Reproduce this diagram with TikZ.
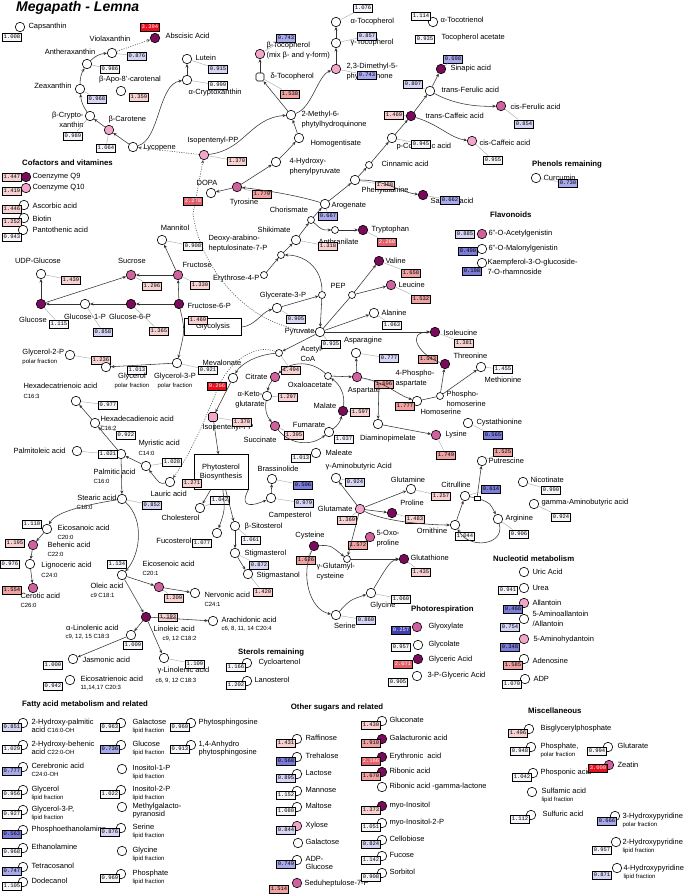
\documentclass[tikz,border=0pt]{standalone}
\usepackage{fontspec}
\setmainfont{Liberation Sans}
\newfontfamily\monof{Liberation Mono}
\usetikzlibrary{arrows.meta}
\definecolor{cpk}{HTML}{F2A6CA}
\definecolor{cmd}{HTML}{D0609E}
\definecolor{cdk}{HTML}{7A0A5C}
\definecolor{bW}{HTML}{F6F6FA}
\definecolor{bLB}{HTML}{D6D6F4}
\definecolor{bB}{HTML}{A8A8EC}
\definecolor{bMB}{HTML}{7C7CDA}
\definecolor{bDB}{HTML}{3E3EAE}
\definecolor{bLP}{HTML}{F8D2D2}
\definecolor{bP}{HTML}{F0A2A2}
\definecolor{bR}{HTML}{E4606A}
\definecolor{bRR}{HTML}{E8101E}
\newcommand\lbf{\fontsize{7.5}{9.6}\selectfont}
\newcommand\sbf{\fontsize{6}{7}\selectfont}
\newcommand\vbf{\monof\fontsize{5.5}{6}\selectfont}
\newcommand\hdf{\bfseries\fontsize{7.8}{9}\selectfont}
\newcommand\mC[4][mcW]{\node[mc,#1] (#2) at (#3,#4) {};}
\newcommand\mV[5][vW]{\node[vb,#1] (#2) at (#3,#4) {#5};}
\newcommand\mL[5][anchor=west]{\node[lb,#1] (#2) at (#3,#4) {#5};}
\newcommand\mS[5][anchor=west]{\node[sb,#1] (#2) at (#3,#4) {#5};}
\newcommand\tE[8][mcW]{\node[mc,#1] (c#2) at ({#3+11},{#5-4}) {};\node[vb,#6] (v#2) at (#3,#5) {#7};\node[lb,anchor=north west] (l#2) at (#4,{#5-8.5}) {#8};}
\newcommand\tC[6][mcW]{\node[mc,#1] (c#2) at (#3,#5) {};\node[lb,anchor=north west] (l#2) at (#4,{#5-4.5}) {#6};}
\begin{document}
\begin{tikzpicture}[x=1pt,y=-1pt,
 mc/.style={circle,draw=black,line width=0.6pt,minimum size=9.5pt,inner sep=0pt},
 mcW/.style={fill=white}, mcL/.style={fill=cpk}, mcM/.style={fill=cmd}, mcD/.style={fill=cdk},
 mcS/.style={fill=white,minimum size=7pt},
 mcQ/.style={fill=cpk,rectangle,rounded corners=1.8pt,minimum size=9pt},
 vb/.style={draw=black,line width=0.5pt,font=\vbf,inner xsep=1.3pt,inner ysep=0pt,minimum height=8.5pt},
 vW/.style={fill=bW}, vLB/.style={fill=bLB}, vB/.style={fill=bB}, vMB/.style={fill=bMB},
 vDB/.style={fill=bDB,text=white}, vLP/.style={fill=bLP}, vP/.style={fill=bP},
 vR/.style={fill=bR,text=white}, vRR/.style={fill=bRR,text=white},
 lb/.style={font=\lbf,inner sep=0.3pt,align=left},
 sb/.style={font=\sbf,inner sep=0.3pt},
 hd/.style={font=\hdf,inner sep=0pt,anchor=west},
 ar/.style={-{Stealth[length=3.4pt,width=3pt]},line width=0.55pt,draw=black!80},
 ln/.style={line width=0.55pt,draw=black!80},
 ldr/.style={draw=black!35,line width=0.4pt},
 dt/.style={line width=0.6pt,draw=black!70,dash pattern=on 1pt off 1.4pt}]
\fill[white] (0,0) rectangle (685,895);
\useasboundingbox (0,0) rectangle (685,895);
\node[font=\bfseries\itshape\fontsize{14}{14}\selectfont,anchor=west,inner sep=0] (title) at (16,8) {Megapath - Lemna};
% ---------- carotenoids
\mC{caps}{20}{27}\mL{lcaps}{28}{27}{Capsanthin}\mV{vcaps}{12}{37}{1.008}
\mC[mcD]{absc}{155}{38}\mV[vRR]{vabsc}{150}{27}{3.394}\mL{labsc}{165}{36}{Abscisic Acid}
\mC{viola}{112}{53}\mL[anchor=center]{lviola}{110}{39}{Violaxanthin}\mV[vLB]{vviola}{137}{56}{0.876}
\mC{anth}{87}{64}\mL[anchor=center]{lanth}{70}{52}{Antheraxanthin}\mV{vanth}{110}{69}{0.986}
\mC{zeax}{80}{89}\mL[anchor=east]{lzeax}{72}{86}{Zeaxanthin}\mV[vLB]{vzeax}{97}{99}{0.968}
\mC{apo}{121}{91}\mL[anchor=center]{lapo}{130}{80}{β-Apo-8'-carotenal}\mV[vLP]{vapo}{139}{97}{1.359}
\mC{bcry}{90}{116}\mL[anchor=east,align=right]{lbcry}{84}{120}{β-Crypto-\\xanthin}\mV{vbcry}{73}{136}{0.989}
\mC[mcL]{bcar}{109}{130}\mL{lbcar}{108}{120}{β-Carotene}\mV{vbcar}{106}{148}{1.064}
\mC{lyco}{133}{147}\mL{llyco}{143}{148}{Lycopene}
\mC{lut}{187}{59}\mL{llut}{195}{58}{Lutein}\mV[vLB]{vlut}{218}{69}{0.915}
\mC{acry}{187}{80}\mV{vacry}{218}{85}{0.999}\mL{lacry}{188}{93}{α-Cryptoxanthin}
\mC[mcL]{ipp1}{204}{155}\mL{lipp1}{187}{141}{Isopentenyl-PP}\mV[vLP]{vipp1}{237}{161}{1.370}
\mC{dopa}{211}{193}\mL[anchor=center]{ldopa}{207}{183}{DOPA}\mV[vR]{vdopa}{193}{201}{2.278}
% ---------- tocopherols
\mC{atoc}{336}{22}\mL{latoc}{350}{22}{α-Tocopherol}\mV{vatoc}{363}{8}{1.076}
\mC{gtoc}{336}{43}\mL{lgtoc}{350}{43}{γ-Tocopherol}\mV[vLB]{vgtoc}{367}{36}{0.857}
\mC[mcL]{dmpq}{336}{69}\mL[anchor=north west]{ldmpq}{346}{63}{2,3-Dimethyl-5-\\phytylquinone}\mV[vB]{vdmpq}{367}{75}{0.743}
\mC[mcL]{btoc}{260}{54}\mL[anchor=north west]{lbtoc}{266}{42}{β-Tocopherol\\(mix β- and γ-form)}\mV[vB]{vbtoc}{286}{38}{0.743}
\node[mc,mcW,rectangle,rounded corners=1.5pt,minimum size=8pt] (dtoc) at (260,77) {};
\mL{ldtoc}{270}{77}{δ-Tocopherol}\mV[vP]{vdtoc}{290}{94}{1.538}
\mC{mphq}{291}{115}\mL[anchor=north west]{lmphq}{301}{111}{2-Methyl-6-\\phytylhydroquinone}
\mC{homog}{299}{138}\mL{lhomog}{310}{144}{Homogentisate}
\mC{hpp}{276}{162}\mL[anchor=north west]{lhpp}{289}{158}{4-Hydroxy-\\phenylpyruvate}
\mC[mcM]{tyr}{237}{187}\mL[anchor=center]{ltyr}{244}{203}{Tyrosine}\mV[vP]{vtyr}{262}{194}{1.779}
\mL[anchor=center]{lchor}{289}{210}{Chorismate}
\mC[mcS]{chor}{311}{220}
\mC{aro}{325}{204}\mL{laro}{331}{206}{Arogenate}\mV[vB]{varo}{328}{216}{0.667}
\mC{phe}{355}{180}\mL{lphe}{361}{191}{Phenylalanine}\mV[vLP]{vphe}{385}{185}{1.388}
\mC[mcS]{cinn}{369}{165}\mL{lcinn}{381}{164}{Cinnamic acid}
\mC{pcou}{392}{138}\mL{lpcou}{396}{147}{p-Coumaric acid}\mV{vpcou}{421}{144}{0.945}
\mC[mcD]{tcaf}{411}{116}\mL{ltcaf}{425}{116}{trans-Caffeic acid}\mV[vLP]{vtcaf}{394}{115}{1.469}
\mC{tfer}{430}{91}\mL{ltfer}{441}{90}{trans-Ferulic acid}\mV[vLB]{vtfer}{413}{84}{0.807}
\mC[mcD]{sin}{441}{69}\mL{lsin}{450}{69}{Sinapic acid}\mV[vB]{vsin}{453}{59}{0.698}
\mC[mcM]{cfer}{501}{106}\mL{lcfer}{510}{107}{cis-Ferulic acid}\mV[vLB]{vcfer}{524}{124}{0.854}
\mC[mcL]{ccaf}{472}{141}\mL{lccaf}{479}{143}{cis-Caffeic acid}\mV{vccaf}{493}{160}{0.955}
\mC[mcD]{sal}{423}{195}\mL{lsal}{430}{202}{Salicylic acid}\mV[vB]{vsal}{450}{200}{0.662}
\mC{att}{433}{22}\mV{vatt}{421}{16}{1.114}\mL{latt}{440}{20}{α-Tocotrienol}
\mV{vtac}{425}{39}{0.935}\mL{ltac}{441}{38}{Tocopherol acetate}
\node[hd] (hphen) at (532,164) {Phenols remaining};
\mC{curc}{536}{178}\mL{lcurc}{543}{178}{Curcumin}\mV[vB]{vcurc}{568}{183}{0.730}
\node[hd] (hflav) at (490,215) {Flavonoids};
\mC[mcM]{fl1}{482}{234}\mV[vLB]{vfl1}{465}{234}{0.885}\mL{lfl1}{488}{234}{6"-O-Acetylgenistin}
\mC{fl2}{482}{249}\mV[vMB]{vfl2}{468}{251}{0.490}\mL{lfl2}{488}{249}{6"-O-Malonylgenistin}
\mC{fl3}{482}{263}\mV[vMB]{vfl3}{472}{271}{0.198}\mL[anchor=north west]{lfl3}{487}{259}{Kaempferol-3-O-glucoside-\\7-O-rhamnoside}
% ---------- cofactors
\node[hd] (hcof) at (22,163) {Cofactors and vitamines};
\mC[mcD]{q9}{26}{177}\mV[vLP]{vq9}{12}{177}{1.447}\mL{lq9}{32}{177}{Coenzyme Q9}
\mC[mcL]{q10}{26}{188}\mV[vLP]{vq10}{12}{191}{1.419}\mL{lq10}{32}{188}{Coenzyme Q10}
\mC{asc}{24}{205}\mV[vLP]{vasc}{12}{209}{1.446}\mL{lasc}{32}{206}{Ascorbic acid}
\mC{bio}{24}{218}\mV[vLP]{vbio}{12}{222}{1.252}\mL{lbio}{32}{219}{Biotin}
\mC{pan}{23}{230}\mV{vpan}{12}{237}{0.943}\mL{lpan}{32}{230}{Pantothenic acid}
% ---------- shikimate / glycolysis
\mC{shik}{296}{240}\mL[anchor=east]{lshik}{291}{230}{Shikimate}
\mC[mcS]{anthr}{335}{230}\mL{lanthr}{318}{242}{Anthranilate}\mV[vLP]{vshik}{328}{246}{1.318}
\mC[mcD]{trp}{363}{230}\mL{ltrp}{371}{230}{Tryptophan}\mV[vR]{vtrp}{387}{242}{2.260}
\mC[mcS]{dahp}{281}{255}\mL[anchor=north west]{ldahp}{208}{235}{Deoxy-arabino-\\heptulosinate-7-P}
\mC[mcS]{e4p}{264}{275}\mL[anchor=east]{le4p}{260}{279}{Erythrose-4-P}
\mC[mcS]{pep}{322}{295}\mL{lpep}{330}{286}{PEP}
\mC{g3p}{277}{308}\mL[anchor=center]{lg3p}{283}{296}{Glycerate-3-P}\mV[vLB]{vg3p}{296}{319}{0.905}
\mC{pyr}{320}{332}\mL[anchor=east]{lpyr}{315}{332}{Pyruvate}\mV{vpyr}{331}{344}{0.935}
\mC[mcS]{brc}{352}{295}
\mC[mcD]{val}{379}{261}\mL{lval}{385}{261}{Valine}\mV[vP]{vval}{411}{273}{1.658}
\mC[mcM]{leu}{391}{285}\mL{lleu}{398}{285}{Leucine}\mV[vP]{vleu}{421}{299}{1.532}
\mC{ala}{374}{313}\mL{lala}{381}{313}{Alanine}\mV{vala}{392}{325}{1.063}
\mC[mcD]{ile}{435}{332}\mL{lile}{443}{333}{Isoleucine}\mV[vLP]{vile}{464}{343}{1.381}
\mC[mcD]{thr}{445}{364}\mL{lthr}{453}{356}{Threonine}\mV[vP]{vthr}{428}{359}{1.543}
\mC{met}{481}{367}\mV{vmet}{503}{369}{1.455}\mL[anchor=center]{lmet}{503}{380}{Methionine}
\mC[mcS]{phser}{440}{396}\mL[anchor=north west]{lphser}{446}{391}{Phospho-\\homoserine}
\mC{hser}{417}{401}\mL{lhser}{420}{412}{Homoserine}\mV[vP]{vhser}{405}{406}{1.777}
\mL[anchor=center]{lasn}{363}{341}{Asparagine}\mC{asn}{356}{353}\mV[vLB]{vasn}{389}{358}{0.777}
\mC[mcM]{asp}{357}{377}\mL[anchor=center]{lasp}{364}{391}{Aspartate}\mL[anchor=north west]{lp4a}{395}{370}{4-Phospho-\\aspartate}\mV[vP]{vasp}{384}{384}{1.696}
\mC[mcS]{oaa}{328}{376}\mL[anchor=center]{loaa}{310}{385}{Oxaloacetate}
\mC[mcS]{accoa}{279}{353}\mL[anchor=north west]{laccoa}{300}{346}{Acetyl-\\CoA}\mV[vLP]{vaccoa}{291}{370}{1.494}
\mC[mcM]{cit}{275}{377}\mL[anchor=east]{lcit}{268}{377}{Citrate}
\mC{akg}{267}{396}\mL[anchor=north,align=center]{lakg}{250}{391}{α-Keto-\\glutarate}\mV[vLP]{vakg}{288}{397}{1.297}
\mC[mcD]{mal}{343}{411}\mL[anchor=center]{lmal}{325}{406}{Malate}\mV[vLP]{vmal}{360}{412}{1.597}
\mC{fum}{329}{432}\mL[anchor=center]{lfum}{309}{425}{Fumarate}\mV{vfum}{344}{439}{1.037}
\mC[mcM]{suc}{275}{426}\mL[anchor=center]{lsuc}{260}{440}{Succinate}\mV[vLP]{vsuc}{294}{435}{1.395}
\mC{dap}{378}{424}\mL[anchor=center]{ldap}{388}{439}{Diaminopimelate}
\mC[mcM]{lys}{436}{435}\mL{llys}{445}{435}{Lysine}\mV[vP]{vlys}{446}{455}{1.749}
\mC{cysta}{468}{423}\mL{lcysta}{476}{423}{Cystathionine}\mV[vMB]{vcysta}{493}{435}{0.565}
% ---------- sugars
\mL[anchor=center]{lmant}{175}{228}{Mannitol}\mC{mant}{162}{240}\mV{vmant}{193}{246}{0.908}
\mL[anchor=center]{ludpg}{38}{261}{UDP-Glucose}\mC{udpg}{41}{274}\mV[vLP]{vudpg}{71}{280}{1.439}
\mL[anchor=center]{lsucr}{132}{261}{Sucrose}\mC[mcM]{sucr}{131}{275}\mV[vLP]{vsucr}{152}{286}{1.296}
\mC[mcM]{fru}{178}{275}\mL{lfru}{182}{265}{Fructose}\mV[vLP]{vfru}{200}{285}{1.330}
\mC[mcD]{glc}{41}{304}\mL[anchor=center]{lglc}{33}{320}{Glucose}\mV{vglc}{59}{324}{1.115}
\mC{g1p}{85}{304}\mL[anchor=center]{lg1p}{85}{317}{Glucose-1-P}\mV[vLB]{vg1p}{103}{332}{0.858}
\mC[mcD]{g6p}{131}{304}\mL[anchor=center]{lg6p}{130}{317}{Glucose-6-P}\mV[vLP]{vg6p}{159}{331}{1.365}
\node[draw=black,line width=0.5pt,minimum width=57pt,minimum height=17pt,font=\lbf] (glyc) at (213,327) {Glycolysis};
\mC[mcD]{f6p}{179}{304}\mL{lf6p}{187}{306}{Fructose-6-P}\mV[vLP]{vf6p}{198}{320}{1.469}
\mL{lgly2p}{22}{353}{Glycerol-2-P}\mS{sgly2p}{22}{362}{polar fraction}\mC{gly2p}{70}{355}\mV[vLP]{vgly2p}{101}{360}{1.236}
\mC{glyl}{106}{367}\mV{vglyl}{137}{370}{1.013}\mL[anchor=center]{lglyl}{132}{377}{Glycerol}\mS[anchor=center]{sglyl}{132}{386}{polar fraction}
\mC{gly3p}{177}{363}\mV{vgly3p}{208}{370}{0.921}\mL[anchor=center]{lgly3p}{175}{377}{Glycerol-3-P}\mS[anchor=center]{sgly3p}{175}{386}{polar fraction}
% ---------- mevalonate / sterols
\mL[anchor=center]{lmev}{222}{363}{Mevalonate}\mC{mev}{233}{378}\mV[vRR]{vmev}{217}{386}{9.266}
\mC[mcQ]{ipp2}{213}{417}\mL{lipp2}{202}{428}{Isopentenyl-PP}\mV[vLP]{vipp2}{242}{422}{1.370}
\node[draw=black,line width=0.5pt,minimum width=54pt,minimum height=35pt,font=\lbf,align=center] (phyto) at (221,472) {Phytosterol\\Biosynthesis};
\mC{chol}{200}{508}\mL[anchor=east]{lchol}{200}{518}{Cholesterol}\mV{vchol}{220}{500}{1.042}
\mC{fuco}{217}{533}\mL[anchor=east]{lfuco}{192}{541}{Fucosterol}\mV{vfuco}{202}{543}{1.077}
\mL[anchor=center]{lbrass}{278}{469}{Brassinolide}\mC{brass}{272}{479}\mV[vMB]{vbrass}{303}{485}{0.506}
\mC{camp}{271}{498}\mV[vLB]{vcamp}{304}{503}{0.979}\mL[anchor=center]{lcamp}{290}{516}{Campesterol}
\mC{bsit}{235}{526}\mL{lbsit}{244}{527}{β-Sitosterol}\mV{vbsit}{251}{540}{1.061}
\mC{stigm}{235}{553}\mL{lstigm}{244}{554}{Stigmasterol}\mV[vLB]{vstigm}{259}{565}{0.872}
\mC{stign}{248}{574}\mL{lstign}{256}{576}{Stigmastanol}\mV[vLP]{vstign}{263}{592}{1.420}
\node[hd] (hster) at (238,652) {Sterols remaining};
\tE{cyc}{236}{258}{667}{vW}{1.166}{Cycloartenol}
\tE{lan}{236}{254}{685}{vW}{1.202}{Lanosterol}
% ---------- fatty acids
\mL{lhextri}{23}{386}{Hexadecatrienoic acid}\mS{shextri}{23}{396}{C16:3}\mC{hextri}{76}{401}\mV{vhextri}{108}{405}{0.977}
\mC{hexdi}{95}{423}\mL{lhexdi}{100}{419}{Hexadecadienoic acid}\mS{shexdi}{100}{428}{C16:2}\mV{vhexdi}{126}{435}{0.922}
\mL{lmyr}{138}{444}{Myristic acid}\mS{smyr}{138}{453}{C14:0}\mC{myr}{146}{466}\mV{vmyr}{172}{462}{1.028}
\mL{lpalo}{13}{451}{Palmitoleic acid}\mC{palo}{77}{451}
\mC{pal}{121}{454}\mV{vpal}{108}{454}{1.021}\mL{lpal}{93}{472}{Palmitic acid}\mS{spal}{93}{481}{C16:0}
\mC{lau}{170}{482}\mL{llau}{150}{494}{Lauric acid}\mV[vLP]{vlau}{192}{483}{1.271}
\mC{ste}{122}{499}\mL[anchor=east]{lste}{117}{498}{Stearic acid}\mS{sste}{76}{507}{C18:0}\mV[vLB]{vste}{152}{505}{0.852}
\mC{eico}{47}{529}\mV{veico}{32}{524}{1.110}\mL{leico}{57}{528}{Eicosanoic acid}\mS{seico}{57}{537}{C20:0}
\mC[mcM]{behe}{33}{545}\mV[vLP]{vbehe}{15}{543}{1.195}\mL{lbehe}{47}{545}{Behenic acid}\mS{sbehe}{47}{554}{C22:0}
\mC{lign}{30}{564}\mV{vlign}{10}{564}{0.976}\mL{llign}{41}{566}{Lignoceric acid}\mS{slign}{41}{575}{C24:0}
\mC[mcM]{cero}{33}{588}\mV[vP]{vcero}{12}{590}{1.554}\mL{lcero}{20}{596}{Cerotic acid}\mS{scero}{20}{605}{C26:0}
\mC{ole}{122}{575}\mV{vole}{117}{564}{1.134}\mL{lole}{90}{586}{Oleic acid}\mS{sole}{90}{595}{c9 C18:1}
\mC[mcM]{eicoe}{159}{587}\mL{leicoe}{142}{564}{Eicosenoic acid}\mS{seicoe}{142}{573}{C20:1}\mV[vLP]{veicoe}{174}{598}{1.209}
\mC{nerv}{195}{593}\mL{lnerv}{204}{595}{Nervonic acid}\mS{snerv}{204}{604}{C24:1}
\mC[mcD]{linol}{146}{617}\mV[vLP]{vlinol}{168}{617}{1.193}\mL{llinol}{153}{629}{Linoleic acid}\mS{slinol}{162}{639}{c9, 12 C18:2}
\mC{arach}{213}{621}\mL{larach}{221}{620}{Arachidonic acid}\mS{sarach}{221}{629}{c6, 8, 11, 14 C20:4}
\mC{alin}{131}{635}\mL[anchor=east]{lalin}{119}{628}{α-Linolenic acid}\mS{salin}{65}{637}{c9, 12, 15 C18:3}\mV{valin}{133}{645}{1.009}
\mC{jasm}{73}{659}\mL{ljasm}{82}{660}{Jasmonic acid}\mV{vjasm}{53}{665}{1.000}
\mC{glin}{164}{658}\mV{vglin}{195}{664}{1.109}\mL{lglin}{157}{671}{γ-Linolenic acid}\mS{sglin}{155}{681}{c6, 9, 12 C18:3}
\mC{eicot}{70}{680}\mV{veicot}{53}{686}{0.942}\mL{leicot}{80}{679}{Eicosatrienoic acid}\mS{seicot}{80}{688}{11,14,17 C20:3}
% ---------- amino acids lower
\mC{male}{316}{453}\mV{vmale}{301}{458}{1.013}\mL{lmale}{325}{453}{Maleate}
\mL{lgaba}{325}{467}{γ-Aminobutyric Acid}\mC{gaba}{336}{478}\mV[vLB]{vgaba}{355}{482}{0.924}
\mL[anchor=center]{lgln}{408}{480}{Glutamine}\mC{gln}{411}{489}\mV[vLP]{vgln}{441}{496}{1.257}
\mC[mcL]{glu}{360}{509}\mL[anchor=east]{lglu}{353}{509}{Glutamate}\mV[vLP]{vglu}{347}{520}{1.369}
\mC[mcD]{pro}{392}{513}\mL[anchor=center]{lpro}{412}{503}{Proline}\mV[vLP]{vpro}{415}{519}{1.483}
\mC{orn}{455}{525}\mL[anchor=center]{lorn}{432}{531}{Ornithine}
\mC{citr}{465}{496}\mL[anchor=center]{lcitr}{456}{485}{Citrulline}\mV[vMB]{vcitr}{491}{489}{0.614}
\mV{vorn}{465}{536}{1.044}
\mC{arg}{498}{519}\mL{larg}{505}{519}{Arginine}\mV{varg}{519}{534}{0.906}
\mC{put}{482}{461}\mL{lput}{488}{461}{Putrescine}\mV[vP]{vput}{503}{452}{1.525}
\node[draw=black,fill=white,line width=0.5pt,minimum width=6pt,minimum height=3.5pt,inner sep=0pt] (jn) at (477,498) {};
\mC{nic}{523}{482}\mL{lnic}{530}{480}{Nicotinate}\mV{vnic}{551}{490}{0.990}
\mC{gab2}{534}{504}\mL{lgab2}{541}{503}{gamma-Aminobutyric acid}\mV{vgab2}{561}{517}{0.924}
\mC[mcM]{oxo}{370}{537}\mL[anchor=north west]{loxo}{376}{530}{5-Oxo-\\proline}\mV[vP]{voxo}{358}{545}{1.572}
\mC[mcD]{cys}{314}{546}\mL[anchor=center]{lcys}{310}{536}{Cysteine}\mV[vP]{vcys}{306}{560}{1.626}
\mC[mcS]{ggc}{347}{559}\mL[anchor=north west]{lggc}{316}{563}{γ-Glutamyl-\\cysteine}
\mC[mcD]{gsh}{404}{559}\mL{lgsh}{410}{558}{Glutathione}\mV[vLP]{vgsh}{421}{572}{1.435}
\mC{gly}{371}{593}\mL[anchor=center]{lgly}{383}{606}{Glycine}\mV{vgly}{401}{599}{1.060}
\mC{ser}{336}{615}\mL[anchor=center]{lser}{345}{626}{Serine}\mV[vLB]{vser}{366}{620}{0.860}
% ---------- photorespiration
\node[hd] (hphot) at (411,609) {Photorespiration};
\mC[mcM]{glx}{417}{627}\mV[vDB]{vglx}{401}{630}{0.257}\mL{lglx}{428}{627}{Glyoxylate}
\mC{glyco}{418}{645}\mV{vglyco}{401}{647}{0.957}\mL{lglyco}{428}{645}{Glycolate}
\mC[mcD]{glyce}{418}{659}\mV[vR]{vglyce}{403}{664}{2.071}\mL{lglyce}{428}{660}{Glyceric Acid}
\mC{pga}{417}{676}\mV{vpga}{398}{682}{0.905}\mL{lpga}{427}{676}{3-P-Glyceric Acid}
% ---------- nucleotides
\node[hd] (hnuc) at (493,559) {Nucleotid metabolism};
\mC{uric}{524}{572}\mL{luric}{532}{572}{Uric Acid}
\mC{urea}{524}{588}\mV{vurea}{508}{590}{0.941}\mL{lurea}{532}{588}{Urea}
\mC[mcL]{allt}{524}{603}\mV[vMB]{vallt}{513}{609}{0.466}\mL{lallt}{532}{603}{Allantoin}
\mC{aall}{524}{619}\mV[vLB]{vaall}{510}{627}{0.754}\mL[anchor=north west]{laall}{532}{611}{5-Aminoallantoin\\/Allantoin}
\mC[mcL]{ahyd}{524}{639}\mV[vMB]{vahyd}{510}{647}{0.348}\mL{lahyd}{533}{640}{5-Aminohydantoin}
\mC{ado}{524}{659}\mV[vP]{vado}{513}{665}{1.585}\mL{lado}{532}{661}{Adenosine}
\mC{adp}{525}{679}\mV{vadp}{512}{684}{1.070}\mL{ladp}{533}{679}{ADP}
% ---------- miscellaneous
\node[hd] (hmisc) at (528,711) {Miscellaneous};
\tE{mi1}{518}{540}{733}{vLP}{1.496}{Bisglycerylphosphate}
\tE{mi2}{520}{540}{751}{vW}{0.948}{Phosphate,\\[-2pt]{\sbf polar fraction}}
\tE{mi3}{597}{617}{751}{vW}{0.994}{Glutarate}
\tE{mi4}{522}{540}{777}{vW}{1.042}{Phosponic acid}
\mC[mcM]{zea}{609}{765}\mV[vRR]{vzea}{598}{768}{3.000}\mL{lzea}{617}{765}{Zeatin}
\tC{mi5}{532}{541}{792}{Sulfamic acid\\[-2pt]{\sbf lipid fraction}}
\tE{mi6}{520}{542}{819}{vW}{1.112}{Sulfuric acid}
\mC{hp3}{615}{816}\mV[vB]{vhp3}{607}{821}{0.666}\mL[anchor=north west]{lhp3}{622}{813}{3-Hydroxypyridine\\[-2pt]{\sbf polar fraction}}
\mC{hp2}{616}{842}\mV{vhp2}{602}{850}{0.957}\mL[anchor=north west]{lhp2}{622}{839}{2-Hydroxypyridine\\[-2pt]{\sbf lipid fraction}}
\mC{hp4}{617}{868}\mV[vLB]{vhp4}{602}{875}{0.871}\mL[anchor=north west]{lhp4}{623}{865}{4-Hydroxypyridine\\[-2pt]{\sbf lipid fraction}}
% ---------- fatty acid table
\node[hd] (hfat) at (22,704) {Fatty acid metabolism and related};
\tE{fa1}{12}{31}{727}{vLB}{0.851}{2-Hydroxy-palmitic\\[-2pt]acid {\sbf C16:0-OH}}
\tE{fa2}{12}{31}{749}{vW}{1.029}{2-Hydroxy-behenic\\[-2pt]acid {\sbf C22:0-OH}}
\tE{fa3}{12}{31}{771}{vB}{0.777}{Cerebronic acid\\[-2pt]{\sbf C24:0-OH}}
\tE{fa4}{12}{31}{794}{vW}{0.956}{Glycerol\\[-2pt]{\sbf lipid fraction}}
\tE{fa5}{12}{31}{814}{vW}{0.927}{Glycerol-3-P,\\[-2pt]{\sbf lipid fraction}}
\tE{fa6}{12}{31}{834}{vMB}{0.563}{Phosphoethanolamine}
\tE{fa7}{12}{31}{852}{vW}{0.968}{Ethanolamine}
\tE{fa8}{12}{31}{871}{vB}{0.747}{Tetracosanol}
\tE{fa9}{12}{31}{886}{vW}{1.105}{Dodecanol}
\tE{fb1}{110}{132}{727}{vW}{0.963}{Galactose\\[-2pt]{\sbf lipid fraction}}
\tE{fb2}{110}{132}{749}{vB}{0.736}{Glucose\\[-2pt]{\sbf lipid fraction}}
\tC{fb3}{122}{132}{769}{Inositol-1-P\\[-2pt]{\sbf lipid fraction}}
\tE{fb4}{110}{132}{794}{vW}{1.022}{Inositol-2-P\\[-2pt]{\sbf lipid fraction}}
\tC{fb5}{122}{132}{807}{Methylgalacto-\\[-2pt]pyranosid}
\tE{fb6}{110}{132}{832}{vLB}{0.876}{Serine\\[-2pt]{\sbf lipid fraction}}
\tC{fb7}{122}{132}{851}{Glycine\\[-2pt]{\sbf lipid fraction}}
\tE{fb8}{110}{132}{878}{vW}{0.969}{Phosphate\\[-2pt]{\sbf lipid fraction}}
\tE{fc1}{180}{198}{727}{vW}{0.960}{Phytosphingosine}
\tE{fc2}{180}{198}{749}{vW}{0.913}{1,4-Anhydro\\[-2pt]phytosphingosine}
% ---------- other sugars
\node[hd,anchor=center] (hsug) at (337,707) {Other sugars and related};
\tE{sa1}{286}{305}{743}{vLP}{1.431}{Raffinose}
\tE{sa2}{286}{305}{761}{vMB}{0.568}{Trehalose}
\tE{sa3}{286}{305}{778}{vLB}{0.895}{Lactose}
\tE{sa4}{286}{305}{795}{vW}{1.152}{Mannose}
\tE{sa5}{286}{305}{811}{vW}{1.080}{Maltose}
\tE[mcL]{sa6}{286}{305}{830}{vLB}{0.844}{Xylose}
\tC{sa7}{298}{305}{843}{Galactose}
\tE{sa8}{286}{305}{864}{vB}{0.749}{ADP-\\[-1pt]Glucose}
\mC[mcM]{sa9}{297}{883}\mV[vP]{vsa9}{279}{889}{1.514}\mL{lsa9}{304}{884}{Seduheptulose-7-P}
\tE{sb1}{371}{389}{725}{vLP}{1.430}{Gluconate}
\tE[mcD]{sb2}{371}{389}{743}{vP}{1.910}{Galacturonic acid}
\tE[mcD]{sb3}{371}{389}{761}{vR}{2.166}{Erythronic\ \ acid}
\tE[mcD]{sb4}{371}{389}{776}{vP}{1.670}{Ribonic acid}
\tC{sb5}{382}{389}{787}{Ribonic acid -gamma-lactone}
\tE[mcD]{sb6}{371}{389}{810}{vLP}{1.373}{myo-Inositol}
\tE{sb7}{371}{389}{827}{vW}{1.051}{myo-Inositol-2-P}
\tE{sb8}{371}{389}{844}{vLB}{0.824}{Cellobiose}
\tE{sb9}{371}{389}{860}{vW}{1.142}{Fucose}
\tE{sb10}{371}{389}{877}{vW}{0.908}{Sorbitol}
% ================= connectors
\draw[ar] (lyco) -- (bcar);
\draw[ar] (bcar) -- (bcry);
\draw[ar] (bcry) to[bend left=15] (zeax);
\draw[ar] (zeax) to[bend left=15] (anth);
\draw[ar] (anth) to[bend left=20] (viola);
\draw[ar,dt] (viola) -- (absc);
\draw[ar] (lyco) .. controls (160,140) and (158,84) .. (acry);
\draw[ar] (acry) -- (lut);
\draw[ar,dt] (ipp1) -- (lyco);
\coordinate (mepA) at (193,214);
\draw[ar,dt] (pyr) .. controls (245,328) and (200,265) .. (mepA) -- (ipp1);
\draw[ar] (ipp1) .. controls (245,150) and (250,118) .. (mphq);
\draw[ar] (mphq) -- (dtoc);
\draw[ar] (dtoc) -- (btoc);
\draw[ar] (mphq) .. controls (312,108) and (318,75) .. (dmpq);
\draw[ar] (dmpq) -- (gtoc);
\draw[ar] (gtoc) -- (atoc);
\draw[ar] (homog) -- (mphq);
\draw[ar] (hpp) .. controls (288,150) .. (homog);
\draw[ar] (tyr) -- (hpp);
\draw[ar] (tyr) -- (dopa);
\draw[ar] (aro) .. controls (300,196) and (265,190) .. (tyr);
\draw[ar] (chor) -- (aro);
\draw[ar] (aro) -- (phe);
\draw[ar] (phe) -- (cinn);
\draw[ar] (cinn) -- (pcou);
\draw[ar] (pcou) -- (tcaf);
\draw[ar] (tcaf) -- (tfer);
\draw[ar] (tfer) -- (sin);
\draw[ar] (tfer) .. controls (450,102) and (470,107) .. (cfer);
\draw[ar] (tcaf) .. controls (440,125) and (450,138) .. (ccaf);
\draw[ar] (phe) .. controls (385,180) and (400,192) .. (sal);
\draw[ar] (chor) .. controls (322,230) .. (anthr);
\draw[ar] (anthr) -- (trp);
\draw[ar] (shik) -- (chor);
\draw[ar] (dahp) -- (shik);
\draw[ar] (e4p) -- (dahp);
\draw[ar] (pep) .. controls (322,268) and (305,255) .. (dahp);
\draw[ar] (g3p) -- (pep);
\draw[ar] (glyc.east) .. controls (255,326) and (262,312) .. (g3p);
\draw[ar] (pep) -- (pyr);
\draw[ln] (pyr) -- (brc);
\draw[ar] (brc) -- (val);
\draw[ar] (brc) -- (leu);
\draw[ar] (pyr) -- (ala);
\draw[ar] (pyr) -- (ile);
\draw[ar] (pyr) -- (accoa);
\draw[ar] (accoa) .. controls (255,355) and (240,365) .. (mev);
\coordinate (fasA) at (217,390);
\draw[ar,dt] (accoa) .. controls (255,343) and (228,362) .. (fasA) .. controls (205,420) and (190,455) .. (lau);
\draw[ar] (cit) to[bend right=15] (akg);
\draw[ar] (akg) to[bend right=25] (suc);
\draw[ar] (suc) to[bend right=45] (fum);
\draw[ar] (fum) to[bend right=19] (mal);
\draw[ar] (mal) to[bend right=30] (oaa);
\draw[ar] (oaa) to[bend right=44] (cit);
\draw[ar] (oaa) -- (asp);
\draw[ar] (asp) -- (asn);
\draw[ar] (asp) .. controls (385,382) and (398,395) .. (hser);
\coordinate (p4a) at (379,383);
\draw[ar] (p4a) -- (dap);
\draw[ar] (dap) -- (lys);
\draw[ln] (hser) -- (phser);
\draw[ar] (phser) -- (thr);
\draw[ar] (phser) -- (met);
\draw[ar] (thr) .. controls (420,356) and (405,332) .. (ile);
\draw[ar] (glu) -- (gaba);
\draw[ar] (glu) -- (gln);
\draw[ar] (glu) -- (pro);
\draw[ar] (glu) .. controls (385,522) and (430,525) .. (orn);
\draw[ar] (glu) -- (ggc);
\draw[ar] (cys) .. controls (330,545) .. (ggc);
\draw[ar,line width=0.9pt] (ggc) -- (gsh);
\draw[ar] (gly) .. controls (385,570) and (390,560) .. (gsh);
\draw[ar] (cys) .. controls (300,575) and (310,610) .. (ser);
\draw[ar] (ser) .. controls (350,600) .. (gly);
\draw[ar] (orn) -- (citr);
\draw[ln] (citr) -- (jn);
\draw[ar] (jn) .. controls (490,503) .. (arg);
\draw[ar] (jn) -- (put);
\draw[ar] (arg) .. controls (505,545) and (470,550) .. (orn);
\draw[ar] (mev) -- (ipp2);
\draw[ar] (ipp2) -- (phyto);
\draw[ar] (phyto) -- (chol);
\draw[ar] (phyto.south east) .. controls (238,510) and (255,505) .. (camp);
\draw[ar] (camp) -- (brass);
\draw[ar] (phyto) -- (bsit);
\draw[ar] (phyto) .. controls (225,510) .. (fuco);
\draw[ar] (bsit) -- (stigm);
\draw[ar] (stigm) -- (stign);
\draw[ar] (f6p) -- (g6p);
\draw[ar] (g6p) -- (g1p);
\draw[ar] (g1p) -- (glc);
\draw[ar] (f6p) -- (fru);
\draw[ar] (fru) -- (sucr);
\draw[ar] (fru) -- (mant);
\draw[ar] (glc) -- (udpg);
\draw[ar] (glc) -- (sucr);
\draw[ar] (f6p) .. controls (185,330) .. (gly3p);
\draw[ar] (gly3p) -- (glyl);
\draw[ar] (lau) .. controls (160,484) .. (myr);
\draw[ar] (myr) -- (pal);
\draw[ar] (pal) -- (hexdi);
\draw[ar] (hexdi) -- (hextri);
\draw[ar] (pal) -- (ste);
\draw[ar] (ste) .. controls (85,505) and (55,512) .. (eico);
\draw[ar] (eico) -- (behe);
\draw[ar] (behe) -- (lign);
\draw[ar] (lign) -- (cero);
\draw[ar] (ste) .. controls (145,520) and (140,555) .. (ole);
\draw[ar] (ole) -- (eicoe);
\draw[ar] (eicoe) -- (nerv);
\draw[ar] (ole) -- (linol);
\draw[ar] (linol) -- (alin);
\draw[ar] (linol) -- (arach);
\draw[ar] (linol) -- (glin);
\draw[ar] (alin) -- (jasm);
\foreach \a/\b in {viola/vviola,anth/vanth,zeax/vzeax,bcry/vbcry,bcar/vbcar,lut/vlut,acry/vacry,ipp1/vipp1,
 atoc/vatoc,gtoc/vgtoc,dmpq/vdmpq,btoc/vbtoc,dtoc/vdtoc,tyr/vtyr,aro/varo,phe/vphe,pcou/vpcou,tcaf/vtcaf,
 tfer/vtfer,sin/vsin,cfer/vcfer,ccaf/vccaf,sal/vsal,curc/vcurc,trp/vtrp,shik/vshik,g3p/vg3p,pyr/vpyr,val/vval,
 leu/vleu,ala/vala,ile/vile,thr/vthr,met/vmet,asn/vasn,asp/vasp,accoa/vaccoa,akg/vakg,mal/vmal,fum/vfum,
 suc/vsuc,lys/vlys,cysta/vcysta,mant/vmant,udpg/vudpg,sucr/vsucr,fru/vfru,glc/vglc,g1p/vg1p,g6p/vg6p,
 gly2p/vgly2p,gly3p/vgly3p,ipp2/vipp2,hextri/vhextri,hexdi/vhexdi,myr/vmyr,palo/vpal,ste/vste,
 eicoe/veicoe,alin/valin,glin/vglin,chol/vchol,brass/vbrass,camp/vcamp,bsit/vbsit,stigm/vstigm,stign/vstign,
 gaba/vgaba,gln/vgln,glu/vglu,pro/vpro,orn/vorn,citr/vcitr,arg/varg,put/vput,nic/vnic,gab2/vgab2,oxo/voxo,
 cys/vcys,gsh/vgsh,gly/vgly,ser/vser}
 \draw[ldr] (\a) -- (\b);
\end{tikzpicture}
\end{document}
